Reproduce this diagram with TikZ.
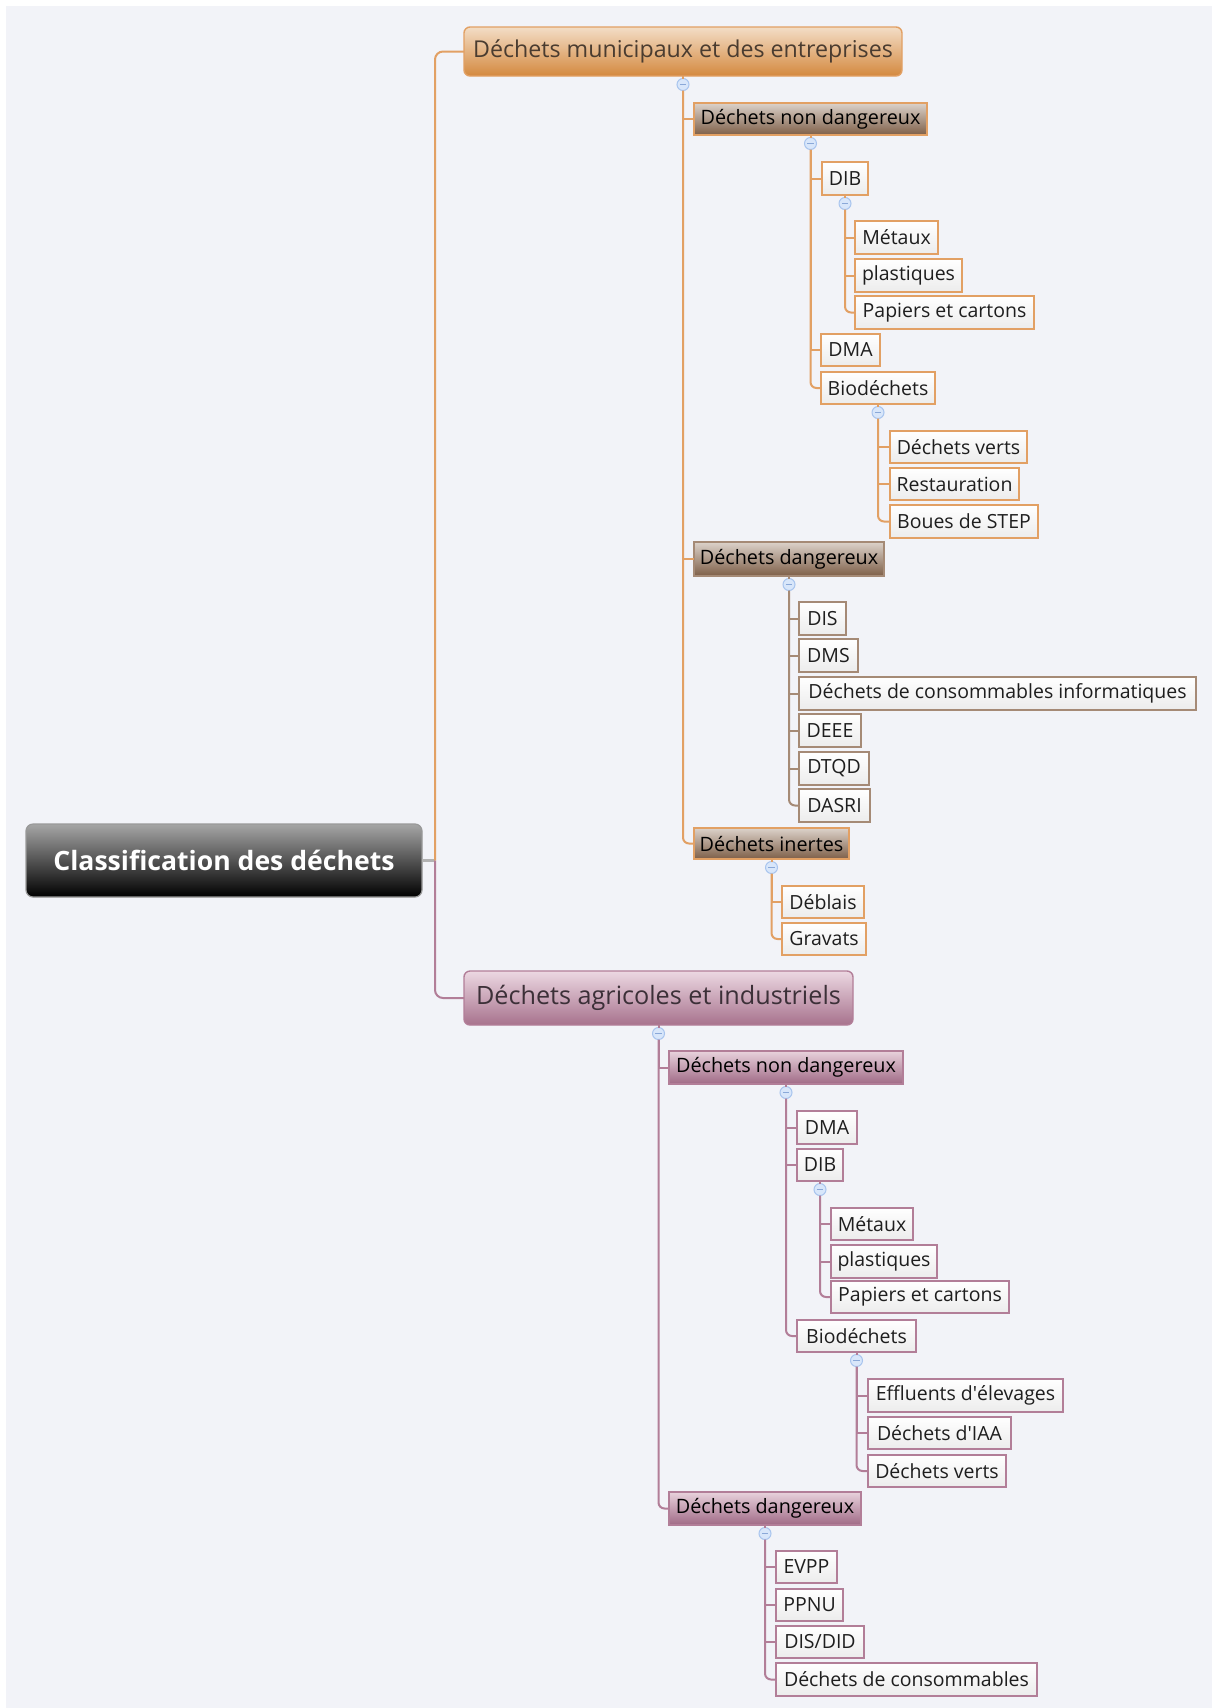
\documentclass[tikz,border=0pt]{standalone}
\usepackage{fontspec}
\setmainfont{Open Sans}
\definecolor{bg}{HTML}{F2F3F8}
\definecolor{lnO}{HTML}{E2A064}
\definecolor{lnB}{HTML}{A58A76}
\definecolor{lnM}{HTML}{B27E98}
\definecolor{leafB}{HTML}{ECECEC}
\definecolor{txt}{HTML}{1E1E1E}
\definecolor{mOtop}{HTML}{F3DDC6}
\definecolor{mObot}{HTML}{D4893F}
\definecolor{hBtop}{HTML}{DCD2CA}
\definecolor{hBbot}{HTML}{7E5F48}
\definecolor{mMtop}{HTML}{ECD8E2}
\definecolor{mMbot}{HTML}{A7728D}
\definecolor{hMtop}{HTML}{E8D2DC}
\definecolor{hMbot}{HTML}{A06A86}
\definecolor{mtxtO}{HTML}{4A3C30}
\definecolor{mtxtM}{HTML}{3C3038}
\definecolor{cfill}{HTML}{D8E6FA}
\definecolor{cdraw}{HTML}{A8C4EE}
\definecolor{cmin}{HTML}{8AA8D8}
\tikzset{
  x=0.5pt, y=-0.5pt,
  every node/.style={inner sep=0pt, outer sep=0pt},
  leafO/.style={draw=lnO, line width=0.7pt, top color=white, bottom color=leafB, text=txt, font=\fontsize{9.75}{11}\selectfont},
  leafB/.style={leafO, draw=lnB},
  leafM/.style={leafO, draw=lnM},
  headO/.style={draw=lnO, line width=0.7pt, top color=hBtop, bottom color=hBbot, text=black, font=\fontsize{9.9}{11}\selectfont},
  headB/.style={headO, draw=lnB},
  headM/.style={draw=lnM, line width=0.7pt, top color=hMtop, bottom color=hMbot, text=black, font=\fontsize{9.9}{11}\selectfont},
  mainO/.style={draw=lnO, line width=0.7pt, rounded corners=3pt, top color=mOtop, bottom color=mObot, text=mtxtO, font=\fontsize{11.6}{13}\selectfont},
  mainM/.style={draw=lnM, line width=0.7pt, rounded corners=3pt, top color=mMtop, bottom color=mMbot, text=mtxtM, font=\fontsize{12.6}{14}\selectfont},
  rootbox/.style={draw=gray!80, line width=0.6pt, rounded corners=3.5pt, top color=black!35, bottom color=black, text=white, font=\fontsize{13.3}{15}\selectfont\bfseries},
  minus/.style={circle, minimum size=6pt, fill=cfill, draw=cdraw, line width=0.5pt,
    path picture={\draw[cmin, line width=0.6pt] ([xshift=-1.6pt]path picture bounding box.center) -- ([xshift=1.6pt]path picture bounding box.center);}},
  cO/.style={draw=lnO, line width=1pt},
  cB/.style={draw=lnB, line width=1pt},
  cM/.style={draw=lnM, line width=1pt},
  cR/.style={draw=gray!60, line width=1.2pt},
}
\newcommand\bx[7]{\node[#1, anchor=north west, minimum width={(#5-#3)*0.5pt}, minimum height={(#6-#4)*0.5pt}] (#2) at (#3,#4) {#7};}
\newcommand\mc[1]{\node[minus] (c#1) at ([yshift=-4.25pt]#1.south) {};}
\begin{document}
\begin{tikzpicture}
\useasboundingbox (0,0) rectangle (1212,1708);
\fill[white] (0,0) rectangle (1212,1708);
\fill[bg] (6,6) rectangle (1212,1708);
% boxes
\bx{rootbox}{root}{26}{824}{422}{897}{Classification des déchets}
\bx{mainO}{M1}{464}{27}{902}{76}{Déchets municipaux et des entreprises}
\bx{headO}{A1}{694}{103}{927}{135}{Déchets non dangereux}
\bx{leafO}{DIBa}{822}{162}{868}{195}{DIB}
\bx{leafO}{Meta}{855}{221}{938}{254}{Métaux}
\bx{leafO}{Plaa}{855}{259}{962}{292}{plastiques}
\bx{leafO}{Papa}{855}{296}{1034}{329}{Papiers et cartons}
\bx{leafO}{DMAa}{821}{334}{880}{366}{DMA}
\bx{leafO}{Bioa}{821}{372}{935}{404}{Biodéchets}
\bx{leafO}{Dva}{890}{431}{1027}{463}{Déchets verts}
\bx{leafO}{Resa}{890}{468}{1019}{500}{Restauration}
\bx{leafO}{Boua}{890}{505}{1038}{538}{Boues de STEP}
\bx{headB}{A2}{694}{542}{884}{576}{Déchets dangereux}
\bx{leafB}{DIS}{799}{602}{846}{635}{DIS}
\bx{leafB}{DMS}{799}{639}{858}{672}{DMS}
\bx{leafB}{DCI}{799}{677}{1196}{710}{Déchets de consommables informatiques}
\bx{leafB}{DEEE}{799}{714}{861}{747}{DEEE}
\bx{leafB}{DTQD}{799}{752}{869}{785}{DTQD}
\bx{leafB}{DASRI}{799}{789}{870}{822}{DASRI}
\bx{headO}{A3}{694}{828}{849}{859}{Déchets inertes}
\bx{leafO}{Deb}{782}{886}{864}{918}{Déblais}
\bx{leafO}{Gra}{782}{923}{866}{955}{Gravats}
\bx{mainM}{M2}{464}{971}{853}{1025}{Déchets agricoles et industriels}
\bx{headM}{B1}{669}{1051}{903}{1084}{Déchets non dangereux}
\bx{leafM}{DMAb}{797}{1111}{857}{1144}{DMA}
\bx{leafM}{DIBb}{797}{1149}{843}{1181}{DIB}
\bx{leafM}{Metb}{831}{1208}{913}{1240}{Métaux}
\bx{leafM}{Plab}{831}{1245}{937}{1278}{plastiques}
\bx{leafM}{Papb}{831}{1281}{1009}{1313}{Papiers et cartons}
\bx{leafM}{Biob}{797}{1320}{916}{1352}{Biodéchets}
\bx{leafM}{Eff}{868}{1379}{1063}{1412}{Effluents d\textquotesingle élevages}
\bx{leafM}{IAA}{868}{1417}{1011}{1449}{Déchets d\textquotesingle IAA}
\bx{leafM}{Dvb}{868}{1455}{1006}{1487}{Déchets verts}
\bx{headM}{B2}{669}{1492}{861}{1525}{Déchets dangereux}
\bx{leafM}{EVPP}{776}{1551}{837}{1583}{EVPP}
\bx{leafM}{PPNU}{776}{1589}{843}{1621}{PPNU}
\bx{leafM}{DID}{776}{1626}{864}{1658}{DIS/DID}
\bx{leafM}{DC}{776}{1663}{1037}{1696}{Déchets de consommables}
% collapse circles
\mc{M1}\mc{A1}\mc{DIBa}\mc{Bioa}\mc{A2}\mc{A3}
\mc{M2}\mc{B1}\mc{DIBb}\mc{Biob}\mc{B2}
% root connectors
\coordinate (j) at ([xshift=6.5pt]root.east);
\draw[cR] (root.east) -- (j);
\draw[cO, rounded corners=4pt] (j) |- (M1.west);
\draw[cM, rounded corners=4pt] (j) |- (M2.west);
% parent to circle
\foreach \p in {M1,A1,DIBa,Bioa,A3} {\draw[cO] (\p.south) -- (c\p.north);}
\draw[cB] (A2.south) -- (cA2.north);
\foreach \p in {M2,B1,DIBb,Biob,B2} {\draw[cM] (\p.south) -- (c\p.north);}
% branch M1
\draw[cO] (cM1.south) |- (A1.west);
\draw[cO] (cM1.south) |- (A2.west);
\draw[cO, rounded corners=3pt] (cM1.south) |- (A3.west);
\draw[cO] (cA1.south) |- (DIBa.west);
\draw[cO] (cA1.south) |- (DMAa.west);
\draw[cO, rounded corners=3pt] (cA1.south) |- (Bioa.west);
\draw[cO] (cDIBa.south) |- (Meta.west);
\draw[cO] (cDIBa.south) |- (Plaa.west);
\draw[cO, rounded corners=3pt] (cDIBa.south) |- (Papa.west);
\draw[cO] (cBioa.south) |- (Dva.west);
\draw[cO] (cBioa.south) |- (Resa.west);
\draw[cO, rounded corners=3pt] (cBioa.south) |- (Boua.west);
\foreach \c in {DIS,DMS,DCI,DEEE,DTQD} {\draw[cB] (cA2.south) |- (\c.west);}
\draw[cB, rounded corners=3pt] (cA2.south) |- (DASRI.west);
\draw[cO] (cA3.south) |- (Deb.west);
\draw[cO, rounded corners=3pt] (cA3.south) |- (Gra.west);
% branch M2
\draw[cM] (cM2.south) |- (B1.west);
\draw[cM, rounded corners=3pt] (cM2.south) |- (B2.west);
\draw[cM] (cB1.south) |- (DMAb.west);
\draw[cM] (cB1.south) |- (DIBb.west);
\draw[cM, rounded corners=3pt] (cB1.south) |- (Biob.west);
\draw[cM] (cDIBb.south) |- (Metb.west);
\draw[cM] (cDIBb.south) |- (Plab.west);
\draw[cM, rounded corners=3pt] (cDIBb.south) |- (Papb.west);
\draw[cM] (cBiob.south) |- (Eff.west);
\draw[cM] (cBiob.south) |- (IAA.west);
\draw[cM, rounded corners=3pt] (cBiob.south) |- (Dvb.west);
\draw[cM] (cB2.south) |- (EVPP.west);
\draw[cM] (cB2.south) |- (PPNU.west);
\draw[cM] (cB2.south) |- (DID.west);
\draw[cM, rounded corners=3pt] (cB2.south) |- (DC.west);
\end{tikzpicture}
\end{document}
